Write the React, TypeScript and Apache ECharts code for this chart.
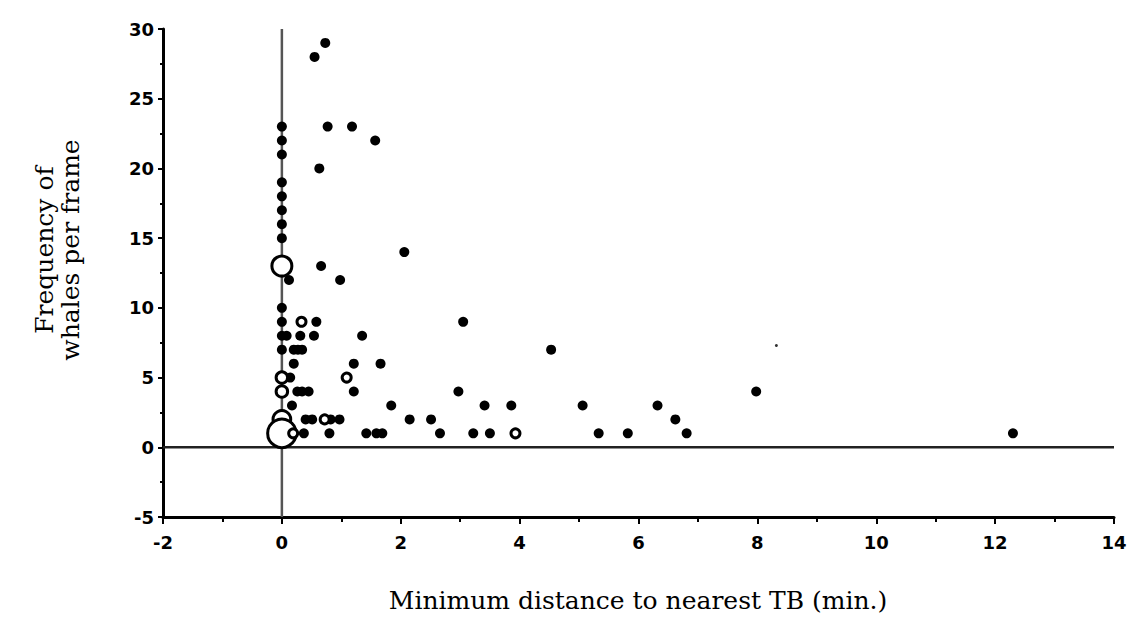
import React, { useEffect, useRef } from "react";
import * as echarts from "echarts";

// Filled dots: distance (min) and frequency of whales per frame
const filledX = [
  0, 0, 0, 0, 0, 0, 0, 0, 0, 0, 0, 0,
  0.73, 0.55, 0.77, 1.18, 1.57, 0.63, 2.06, 0.66, 0.98, 0.12,
  0.58, 3.05,
  0.08, 0.31, 0.54, 1.35,
  0.2, 0.27, 0.34, 4.53,
  0.2, 1.21, 1.66,
  0.14,
  0.26, 0.34, 0.45, 1.21, 2.97, 7.98,
  0.17, 1.84, 3.41, 3.86, 5.06, 6.32,
  0.4, 0.51, 0.82, 0.97, 2.15, 2.51, 6.62,
  0.37, 0.8, 1.42, 1.59, 1.69, 2.66, 3.22, 3.5, 5.33, 5.82, 6.81, 12.3,
];
const filledY = [
  23, 22, 21, 19, 18, 17, 16, 15, 10, 9, 8, 7,
  29, 28, 23, 23, 22, 20, 14, 13, 12, 12,
  9, 9,
  8, 8, 8, 8,
  7, 7, 7, 7,
  6, 6, 6,
  5,
  4, 4, 4, 4, 4, 4,
  3, 3, 3, 3, 3, 3,
  2, 2, 2, 2, 2, 2, 2,
  1, 1, 1, 1, 1, 1, 1, 1, 1, 1, 1, 1,
];

// Open circles: position and number of coincident observations
const openX = [0, 0.33, 0, 1.09, 0, 0, 0.72, 0, 0.19, 3.93];
const openY = [13, 9, 5, 5, 4, 2, 2, 1, 1, 1];
const openN = [8, 1, 2, 1, 2, 6, 1, 18, 1, 1];

// Tiny speck visible in the scan
const speckX = [8.32];
const speckY = [7.3];

const xMin = -2;
const xMax = 14;
const xStep = 2;
const yMin = -5;
const yMax = 30;
const yStep = 5;

const xTitle = "Minimum distance to nearest TB (min.)";
const yTitle = "Frequency of\nwhales per frame";

export default function App() {
  const ref = useRef<HTMLDivElement>(null);

  useEffect(() => {
    if (!ref.current) return;
    const chart = echarts.init(ref.current, undefined, { renderer: "svg" });

    const filled = filledX.map((x, i) => [x, filledY[i]]);
    const open = openX.map((x, i) => [x, openY[i], openN[i]]);
    const speck = speckX.map((x, i) => [x, speckY[i]]);

    const tickFont = {
      fontFamily: "DejaVu Sans",
      fontWeight: "bold" as const,
      fontSize: 18,
      color: "#000",
    };

    chart.setOption({
      animation: false,
      backgroundColor: "#fff",
      grid: { left: 163, right: 20, top: 29, bottom: 107, containLabel: false },
      xAxis: {
        type: "value",
        min: xMin,
        max: xMax,
        interval: xStep,
        axisLine: { show: true, onZero: false, lineStyle: { color: "#000", width: 3 } },
        axisTick: { show: true, inside: false, length: 7, lineStyle: { color: "#000", width: 2 } },
        minorTick: { show: true, splitNumber: 2, length: 5, lineStyle: { color: "#000", width: 2 } },
        splitLine: { show: false },
        axisLabel: { ...tickFont, margin: 16 },
      },
      yAxis: {
        type: "value",
        min: yMin,
        max: yMax,
        interval: yStep,
        axisLine: { show: true, onZero: false, lineStyle: { color: "#000", width: 3 } },
        axisTick: { show: true, inside: false, length: 5, lineStyle: { color: "#000", width: 2 } },
        minorTick: { show: true, splitNumber: 2, length: 3, lineStyle: { color: "#000", width: 2 } },
        splitLine: { show: false },
        axisLabel: { ...tickFont, margin: 9 },
      },
      series: [
        {
          type: "line",
          data: [[xMin, 0], [xMax, 0]],
          symbol: "none",
          lineStyle: { color: "#222", width: 2.5, type: "solid" },
          z: 1,
        },
        {
          type: "line",
          data: [[0, yMin], [0, yMax]],
          symbol: "none",
          lineStyle: { color: "#555", width: 2.5, type: "solid" },
          z: 1,
        },
        {
          type: "scatter",
          data: filled,
          symbol: "circle",
          symbolSize: 10,
          itemStyle: { color: "#000", opacity: 1 },
          z: 3,
        },
        {
          type: "scatter",
          data: open,
          symbol: "circle",
          symbolSize: (v: number[]) => 6 * Math.sqrt(v[2]) + 3,
          itemStyle: { color: "#fff", borderColor: "#000", borderWidth: 3, opacity: 1 },
          z: 4,
        },
        {
          type: "scatter",
          data: speck,
          symbol: "circle",
          symbolSize: 3,
          itemStyle: { color: "#000" },
          z: 3,
        },
      ],
      graphic: [
        {
          type: "text",
          x: 57,
          y: 250,
          rotation: Math.PI / 2,
          style: {
            text: yTitle,
            font: "25px 'DejaVu Serif'",
            fill: "#000",
            align: "center",
            verticalAlign: "middle",
            lineHeight: 26,
          },
        },
        {
          type: "text",
          x: 638,
          y: 600,
          style: {
            text: xTitle,
            font: "25px 'DejaVu Serif'",
            fill: "#000",
            align: "center",
            verticalAlign: "middle",
          },
        },
      ],
    });

    return () => chart.dispose();
  }, []);

  return <div ref={ref} style={{ width: 1134, height: 624, position: "absolute", left: 0, top: 0 }} />;
}
